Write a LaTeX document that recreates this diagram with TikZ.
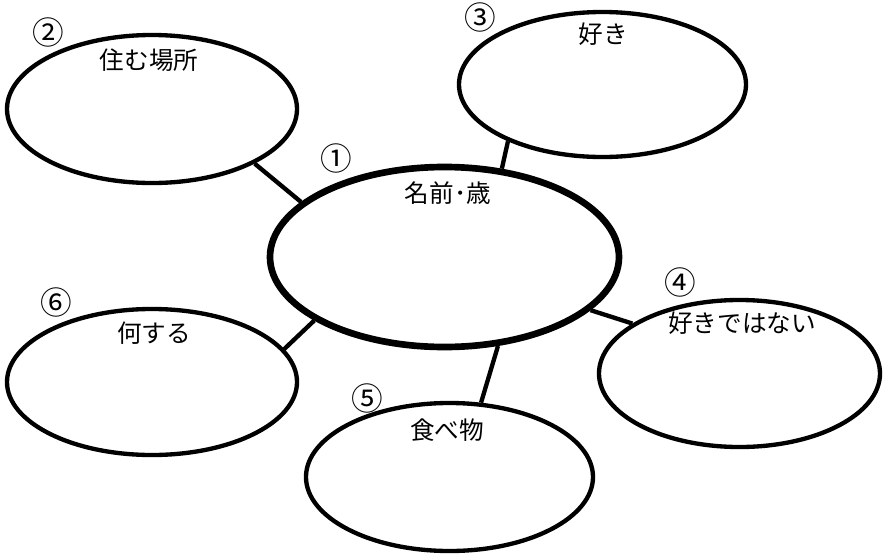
\documentclass[tikz,border=0pt]{standalone}
\usepackage{fontspec}
\setmainfont{Noto Sans CJK JP}
\usetikzlibrary{shapes.geometric}
\tikzset{
  topic/.style={draw, ellipse, line width=0.13cm, inner sep=0pt},
  hub/.style={draw, ellipse, line width=0.2cm, inner sep=0pt},
  word/.style={font=\fontsize{21}{24}\selectfont, inner sep=0pt},
  num/.style={font=\fontsize{27}{30}\selectfont, inner sep=0pt},
  link/.style={line width=0.13cm}
}
\begin{document}
\begin{tikzpicture}[x=0.03cm,y=-0.03cm]
      \useasboundingbox (0,0) rectangle (883,555);

      \node[hub, minimum width=10.47cm, minimum height=5.4cm] (name) at (444.5,257) {};

      \node[topic, minimum width=8.7cm, minimum height=4.44cm] (place) at (152,109) {};
      \node[topic, minimum width=8.61cm, minimum height=4.35cm] (like) at (602.5,84.5) {};
      \node[topic, minimum width=8.43cm, minimum height=4.41cm] (dislike) at (739.5,373.5) {};
      \node[topic, minimum width=8.61cm, minimum height=4.44cm] (food) at (449.5,477) {};
      \node[topic, minimum width=8.7cm, minimum height=4.38cm] (doing) at (152,382) {};

      \node[num] (num1) at (336,158) {①};
      \node[num] (num2) at (48,32) {②};
      \node[num] (num3) at (480,17) {③};
      \node[num] (num4) at (680,282) {④};
      \node[num] (num5) at (367,398) {⑤};
      \node[num] (num6) at (56,302) {⑥};

      \node[word] (txtname) at (448,193) {名前･歳};
      \node[word] (txtplace) at (149,60) {住む場所};
      \node[word] (txtlike) at (603,34) {好き};
      \node[word] (txtdislike) at (742,323) {好きではない};
      \node[word] (txtfood) at (447,430) {食べ物};
      \node[word] (txtdoing) at (154,333) {何する};

      \draw[link] (node cs:name=name, angle=159) -- (node cs:name=place, angle=-28);
      \draw[link] (node cs:name=name, angle=57) -- (node cs:name=like, angle=-149);
      \draw[link] (node cs:name=name, angle=-20) -- (node cs:name=dislike, angle=155);
      \draw[link] (node cs:name=name, angle=-59) -- (node cs:name=food, angle=67);
      \draw[link] (node cs:name=name, angle=-154) -- (node cs:name=doing, angle=14);
    \end{tikzpicture}
\end{document}
